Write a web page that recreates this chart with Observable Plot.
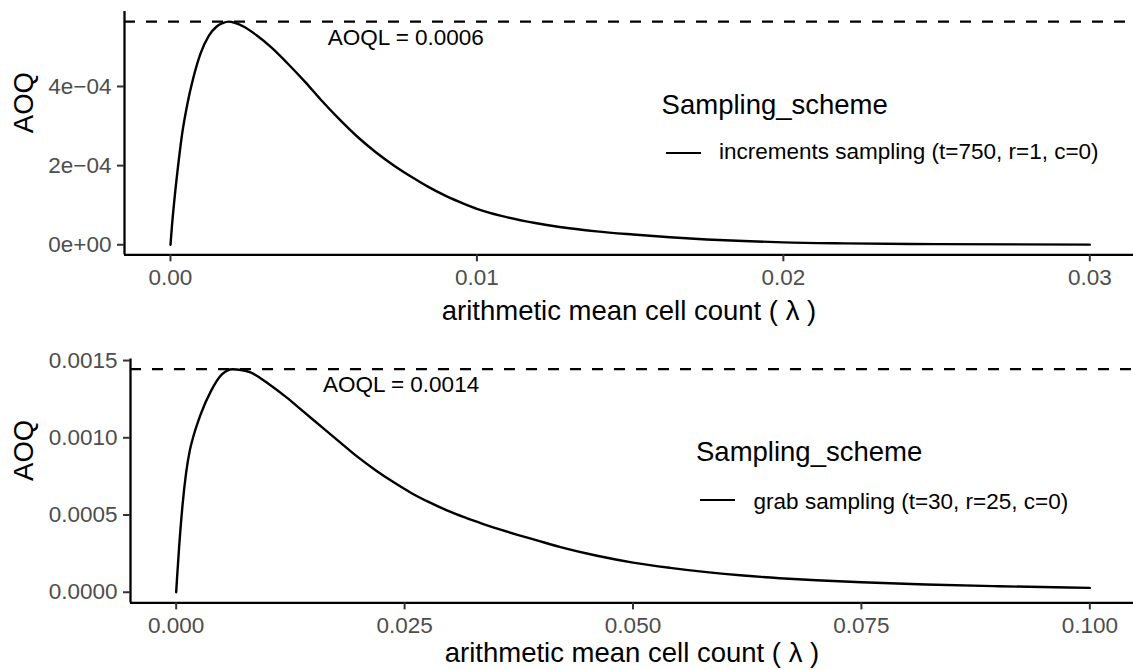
<!DOCTYPE html>
<html><head><meta charset="utf-8">
<script src="https://cdn.jsdelivr.net/npm/d3@7"></script>
<script src="https://cdn.jsdelivr.net/npm/@observablehq/plot@0.6"></script>
<style>
html,body{margin:0;padding:0;background:#fff;}
#wrap{position:relative;width:1133px;height:670px;overflow:hidden;font-family:"Liberation Sans",Arial,Helvetica,sans-serif;}
.panel{position:absolute;left:0;}
.leg{position:absolute;line-height:1;white-space:nowrap;color:#000;}
.key{position:absolute;height:2.3px;background:#000;}
</style></head><body>
<div id="wrap">
  <div id="p1" class="panel" style="top:0px"></div>
  <div id="p2" class="panel" style="top:335px"></div>
</div>
<script>
// ---- data ----
const lambdaTop = [0, 0.00005, 0.00013, 0.00025, 0.00038, 0.00055, 0.00074, 0.00098, 0.00125, 0.0015, 0.0017, 0.0019, 0.0021, 0.0024, 0.0028, 0.0033, 0.0038, 0.0044, 0.0049, 0.0055, 0.0061, 0.0067, 0.0073, 0.0079, 0.0084, 0.009, 0.0096, 0.01, 0.0108, 0.0119, 0.0127, 0.0139, 0.0151, 0.0163, 0.0175, 0.0187, 0.02, 0.022, 0.025, 0.03];
const aoqTop = [0, 0.000049, 0.000115, 0.0002, 0.00028, 0.000355, 0.00042, 0.000483, 0.000528, 0.000551, 0.00056, 0.000564, 0.000561, 0.000551, 0.00053, 0.000498, 0.00046, 0.000411, 0.000367, 0.000318, 0.000273, 0.000234, 0.0002, 0.00017, 0.000147, 0.000123, 0.000103, 0.000091, 0.000073, 0.000055, 0.000045, 0.000034, 0.000026, 0.000019, 0.0000135, 0.0000095, 0.0000062, 0.0000036, 0.0000016, 0.0000004];

const lambdaBottom = [0, 0.0001, 0.00031, 0.0007, 0.00109, 0.0015, 0.00188, 0.00266, 0.00383, 0.005, 0.00617, 0.0071, 0.00813, 0.01009, 0.01204, 0.014, 0.01595, 0.01791, 0.01986, 0.02182, 0.02377, 0.02572, 0.02768, 0.02963, 0.03159, 0.03354, 0.0355, 0.03745, 0.0394, 0.04206, 0.04606, 0.05, 0.05406, 0.05806, 0.06206, 0.06606, 0.07006, 0.075, 0.08206, 0.09005, 0.1];
const aoqBottom = [0, 0.000097, 0.000282, 0.000567, 0.000774, 0.00092, 0.001008, 0.001148, 0.001305, 0.00141, 0.001444, 0.001439, 0.001423, 0.00135, 0.001263, 0.001166, 0.001069, 0.000972, 0.000876, 0.00079, 0.000713, 0.000643, 0.000583, 0.00053, 0.000484, 0.000443, 0.000405, 0.00037, 0.000337, 0.000292, 0.000236, 0.000192, 0.000158, 0.00013, 0.000108, 0.000091, 0.000078, 0.000065, 0.00005, 0.000039, 0.000028];

const xTicksTop = [0, 0.01, 0.02, 0.03];
const xTickLabelsTop = ["0.00", "0.01", "0.02", "0.03"];
const yTicksTop = [0, 0.0002, 0.0004];
const yTickLabelsTop = ["0e+00", "2e\u221204", "4e\u221204"];
const xTicksBottom = [0, 0.025, 0.05, 0.075, 0.1];
const xTickLabelsBottom = ["0.000", "0.025", "0.050", "0.075", "0.100"];
const yTicksBottom = [0, 0.0005, 0.001, 0.0015];
const yTickLabelsBottom = ["0.0000", "0.0005", "0.0010", "0.0015"];

const aoqlValues = [0.000564, 0.001444];
const aoqlLabels = ["AOQL = 0.0006", "AOQL = 0.0014"];
const schemeLabels = ["increments sampling (t=750, r=1, c=0)", "grab sampling (t=30, r=25, c=0)"];
const legendTitle = "Sampling_scheme";
const xTitle = "arithmetic mean cell count ( \u03bb )";
const yTitle = "AOQ";

// ---- drawing ----
const FONT = '"Liberation Sans", Arial, Helvetica, sans-serif';

function panel(cfg) {
  const data = cfg.lambda.map((l, i) => ({lambda: l, aoq: cfg.aoq[i], scheme: cfg.scheme}));
  const xMax = d3.max(cfg.lambda);
  const tickFmt = (ticks, labels) => d => labels[ticks.indexOf(d)];
  return Plot.plot({
    width: 1133,
    height: cfg.height,
    marginLeft: cfg.marginLeft,
    marginRight: 0,
    marginTop: cfg.marginTop,
    marginBottom: cfg.marginBottom,
    style: {fontFamily: FONT, background: "white", overflow: "visible"},
    x: {domain: cfg.xDomain},
    y: {domain: cfg.yDomain},
    marks: [
      Plot.ruleY([cfg.aoql], {stroke: "black", strokeWidth: 2.3, strokeDasharray: "11,11"}),
      Plot.line(data, {x: "lambda", y: "aoq", stroke: "black", strokeWidth: 2.4, curve: "monotone-x"}),
      Plot.text([{x: 0.25 * xMax, y: cfg.aoql, t: cfg.aoqlLabel}], {x: "x", y: "y", text: "t", dx: cfg.annDx, dy: cfg.annDy, fontSize: 22.5, fill: "black", lineAnchor: "middle"}),
      Plot.ruleX([cfg.xDomain[0]], {stroke: "black", strokeWidth: 2.3}),
      Plot.ruleY([cfg.yDomain[0]], {stroke: "black", strokeWidth: 2.3}),
      Plot.axisX(cfg.xTicks, {tickFormat: tickFmt(cfg.xTicks, cfg.xLabels), tickSize: 7, tickPadding: 7, fontSize: 22.5, fill: "#4D4D4D", stroke: "#333333", strokeWidth: 2, label: null}),
      Plot.axisY(cfg.yTicks, {tickFormat: tickFmt(cfg.yTicks, cfg.yLabels), tickSize: 7, tickPadding: 6, fontSize: 22.5, fill: "#4D4D4D", stroke: "#333333", strokeWidth: 2, label: null}),
      Plot.text([xTitle], {text: d => d, frameAnchor: "bottom", dy: cfg.xTitleDy, fontSize: 27.5, fill: "black", lineAnchor: "middle"}),
      Plot.text([yTitle], {text: d => d, frameAnchor: "left", dx: cfg.yTitleDx, rotate: -90, fontSize: 27.5, fill: "black", lineAnchor: "middle"})
    ]
  });
}

document.getElementById("p1").appendChild(panel({
  lambda: lambdaTop, aoq: aoqTop, scheme: schemeLabels[0],
  height: 335, marginLeft: 124, marginTop: 11, marginBottom: 80.7,
  xDomain: [-0.0015, 0.031426], yDomain: [-0.0000253, 0.0005895],
  xTicks: xTicksTop, xLabels: xTickLabelsTop, yTicks: yTicksTop, yLabels: yTickLabelsTop,
  aoql: aoqlValues[0], aoqlLabel: aoqlLabels[0], annDx: 5.5, annDy: 16.5,
  xTitleDy: 56, yTitleDx: -100.7
}));

document.getElementById("p2").appendChild(panel({
  lambda: lambdaBottom, aoq: aoqBottom, scheme: schemeLabels[1],
  height: 335, marginLeft: 130, marginTop: 23.5, marginBottom: 67.6,
  xDomain: [-0.005, 0.10478], yDomain: [-0.000069, 0.00151],
  xTicks: xTicksBottom, xLabels: xTickLabelsBottom, yTicks: yTicksBottom, yLabels: yTickLabelsBottom,
  aoql: aoqlValues[1], aoqlLabel: aoqlLabels[1], annDx: -3.5, annDy: 16,
  xTitleDy: 50, yTitleDx: -106.7
}));

// ---- legends (ggplot-style, inside panels) ----
const wrap = document.getElementById("wrap");
const legendPos = [
  {titleLeft: 661.6, titleTop: 90.7, keyLeft: 666, keyTop: 152.2, textLeft: 719, textTop: 141},
  {titleLeft: 696, titleTop: 438.4, keyLeft: 700, keyTop: 498.9, textLeft: 753.6, textTop: 491}
];
legendPos.forEach((p, i) => {
  const t = document.createElement("div");
  t.className = "leg"; t.textContent = legendTitle;
  Object.assign(t.style, {left: p.titleLeft + "px", top: p.titleTop + "px", fontSize: "27.5px"});
  wrap.appendChild(t);
  const k = document.createElement("div");
  k.className = "key";
  Object.assign(k.style, {left: p.keyLeft + "px", top: p.keyTop + "px", width: "34.7px"});
  wrap.appendChild(k);
  const s = document.createElement("div");
  s.className = "leg"; s.textContent = schemeLabels[i];
  Object.assign(s.style, {left: p.textLeft + "px", top: p.textTop + "px", fontSize: "22.5px"});
  wrap.appendChild(s);
});
</script>
</body></html>
